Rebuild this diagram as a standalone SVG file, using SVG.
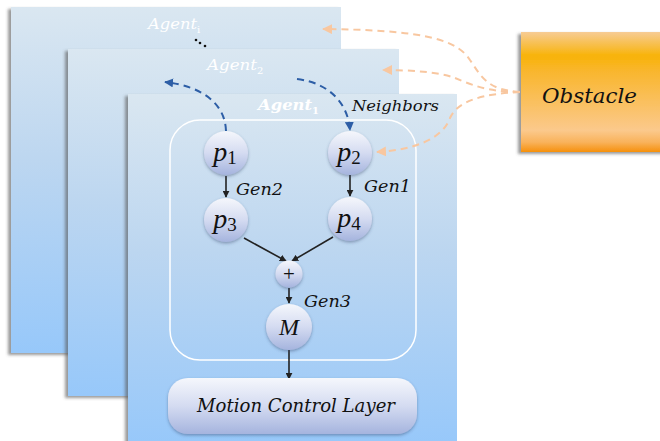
<svg xmlns="http://www.w3.org/2000/svg" width="660" height="441" viewBox="0 0 660 441">
  <defs>
    <linearGradient id="panelFill" x1="0" y1="0" x2="0" y2="1">
      <stop offset="0" stop-color="#dae7f1"/>
      <stop offset="0.45" stop-color="#bcd6f0"/>
      <stop offset="1" stop-color="#97c8fa"/>
    </linearGradient>
    <linearGradient id="nodeFill" x1="0" y1="0" x2="0" y2="1">
      <stop offset="0" stop-color="#f5f7fc"/>
      <stop offset="0.5" stop-color="#d4dbf1"/>
      <stop offset="1" stop-color="#a5b4de"/>
    </linearGradient>
    <linearGradient id="obstacleFill" x1="0" y1="0" x2="0" y2="1">
      <stop offset="0" stop-color="#f7cc95"/>
      <stop offset="0.2" stop-color="#f8b308"/>
      <stop offset="0.32" stop-color="#f9b62c"/>
      <stop offset="0.82" stop-color="#fbc98c"/>
      <stop offset="0.92" stop-color="#f9b25a"/>
      <stop offset="1" stop-color="#f6900c"/>
    </linearGradient>
    <filter id="panelShadow" x="-5%" y="-5%" width="110%" height="110%">
      <feDropShadow dx="-3" dy="2" stdDeviation="1.5" flood-color="#555" flood-opacity="0.6"/>
    </filter>
    <filter id="softShadow" x="-20%" y="-20%" width="140%" height="140%">
      <feDropShadow dx="0" dy="1.5" stdDeviation="1.5" flood-color="#34456b" flood-opacity="0.45"/>
    </filter>
    <marker id="arrowDark" viewBox="0 0 10 10" refX="9" refY="5" markerWidth="7" markerHeight="7" orient="auto" markerUnits="userSpaceOnUse">
      <path d="M0,0 L10,5 L0,10 z" fill="#222"/>
    </marker>
    <marker id="arrowBlue" viewBox="0 0 10 10" refX="9" refY="5" markerWidth="9" markerHeight="9" orient="auto" markerUnits="userSpaceOnUse">
      <path d="M0,0 L10,5 L0,10 z" fill="#2d5ea6"/>
    </marker>
    <marker id="arrowPeach" viewBox="0 0 10 10" refX="9" refY="5" markerWidth="10" markerHeight="10" orient="auto" markerUnits="userSpaceOnUse">
      <path d="M0,0 L10,5 L0,10 z" fill="#f8c7a0"/>
    </marker>
  </defs>
  <style>
    .panel { fill: url(#panelFill); filter: url(#panelShadow); }
    .node { fill: url(#nodeFill); filter: url(#softShadow); }
    .math { font-family: "DejaVu Serif", "Liberation Serif", serif; font-style: italic; fill: #111; }
    .var { font-family: "Liberation Serif", "DejaVu Serif", serif; font-style: italic; fill: #111; }
    .agent { font-family: "DejaVu Serif", "Liberation Serif", serif; font-style: italic; fill: #ffffff; font-size: 15px; }
    .sub { font-style: normal; }
    .flow { stroke: #222; stroke-width: 1.6; fill: none; marker-end: url(#arrowDark); }
    .link { stroke: #2d5ea6; stroke-width: 2; fill: none; stroke-dasharray: 7 5; marker-end: url(#arrowBlue); }
    .sense { stroke: #f8c7a0; stroke-width: 2; fill: none; stroke-dasharray: 7 5; marker-end: url(#arrowPeach); }
  </style>

  <!-- stacked agent layers -->
  <g id="agent-i">
    <rect class="panel" x="11" y="7" width="330" height="346"/>
    <text class="agent" x="148" y="29"><tspan textLength="49" lengthAdjust="spacingAndGlyphs">Agent</tspan><tspan class="sub" font-size="10" dy="4">i</tspan></text>
  </g>
  <g id="ellipsis">
    <circle cx="196" cy="40" r="1.3" fill="#111"/>
    <circle cx="200" cy="43" r="1.3" fill="#111"/>
    <circle cx="205" cy="46" r="1.3" fill="#111"/>
  </g>
  <g id="agent-2">
    <rect class="panel" x="68" y="49" width="331" height="347"/>
    <text class="agent" x="207" y="70"><tspan textLength="50" lengthAdjust="spacingAndGlyphs">Agent</tspan><tspan class="sub" font-size="10" dy="4">2</tspan></text>
  </g>
  <g id="agent-1">
    <rect class="panel" x="128" y="94" width="329" height="350"/>
    <text class="agent" x="258" y="110" font-weight="bold"><tspan textLength="54" lengthAdjust="spacingAndGlyphs">Agent</tspan><tspan class="sub" font-size="10" dy="4">1</tspan></text>
    <rect x="170" y="120" width="246" height="240" rx="30" fill="none" stroke="#ffffff" stroke-width="1.5"/>
  </g>

  <!-- obstacle -->
  <g id="obstacle">
    <rect x="521" y="32" width="145" height="120" fill="url(#obstacleFill)" filter="url(#panelShadow)"/>
    <text class="math" x="542" y="103" font-size="20" textLength="95" lengthAdjust="spacingAndGlyphs">Obstacle</text>
  </g>

  <!-- connectors -->
  <g id="connectors">
    <line class="flow" x1="226" y1="176" x2="226" y2="197"/>
    <line class="flow" x1="350" y1="175" x2="350" y2="196"/>
    <line class="flow" x1="244" y1="238" x2="286" y2="261"/>
    <line class="flow" x1="333" y1="237" x2="292" y2="261"/>
    <line class="flow" x1="289" y1="288" x2="289" y2="303"/>
    <line class="flow" x1="289" y1="350" x2="289" y2="379"/>
    <path class="link" d="M226,131 C225,102 200,86 165,82"/>
    <path class="link" d="M297,79 C330,83 348,104 350,130"/>
    <path class="sense" d="M520,92 C488,90 482,78 470,60 C455,36 410,30 323,29"/>
    <path class="sense" d="M520,92 C486,92 470,84 455,78 C440,72 410,70 383,70"/>
    <path class="sense" d="M520,92 C484,94 458,100 450,118 C442,140 412,150 377,152"/>
  </g>
  <text class="math" x="352" y="111" font-size="15" textLength="87" lengthAdjust="spacingAndGlyphs">Neighbors</text>

  <!-- behaviour graph nodes -->
  <g id="p1">
    <circle class="node" cx="226" cy="153" r="22"/>
    <text class="var" x="225" y="161" font-size="28" text-anchor="middle">p<tspan class="sub" font-size="19" dy="3">1</tspan></text>
  </g>
  <g id="p2">
    <circle class="node" cx="350" cy="153" r="22"/>
    <text class="var" x="349" y="161" font-size="28" text-anchor="middle">p<tspan class="sub" font-size="19" dy="3">2</tspan></text>
  </g>
  <g id="p3">
    <circle class="node" cx="226" cy="220" r="22"/>
    <text class="var" x="225" y="228" font-size="28" text-anchor="middle">p<tspan class="sub" font-size="19" dy="3">3</tspan></text>
  </g>
  <g id="p4">
    <circle class="node" cx="350" cy="219" r="22"/>
    <text class="var" x="349" y="227" font-size="28" text-anchor="middle">p<tspan class="sub" font-size="19" dy="3">4</tspan></text>
  </g>
  <g id="sum">
    <circle class="node" cx="289" cy="274" r="13.5"/>
    <text x="289" y="281" font-family="Liberation Serif, serif" font-size="21" text-anchor="middle" fill="#111">+</text>
  </g>
  <g id="merge">
    <circle class="node" cx="289" cy="327" r="23"/>
    <text class="var" x="289" y="335" font-size="24" text-anchor="middle">M</text>
  </g>
  <text class="math" x="236" y="195" font-size="16" textLength="47" lengthAdjust="spacingAndGlyphs">Gen2</text>
  <text class="math" x="364" y="192" font-size="16" textLength="47" lengthAdjust="spacingAndGlyphs">Gen1</text>
  <text class="math" x="304" y="307" font-size="16" textLength="47" lengthAdjust="spacingAndGlyphs">Gen3</text>

  <g id="motion-control">
    <rect class="node" x="168" y="378" width="249" height="56" rx="20"/>
    <text class="math" x="197" y="412" font-size="18" textLength="198" lengthAdjust="spacingAndGlyphs">Motion Control Layer</text>
  </g>
</svg>
